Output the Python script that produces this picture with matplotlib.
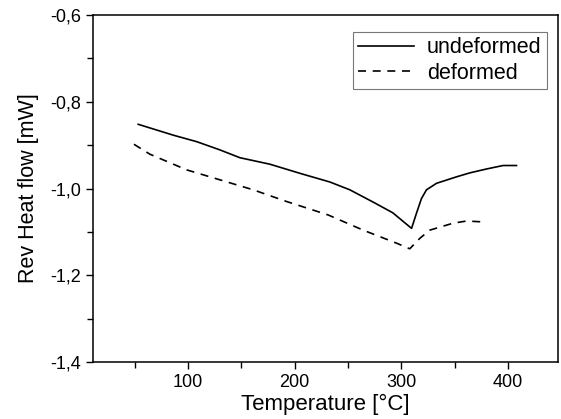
import matplotlib
matplotlib.use("Agg")
import matplotlib.pyplot as plt
from matplotlib.ticker import FuncFormatter, MultipleLocator

plt.rcParams['font.family'] = ['Liberation Sans', 'DejaVu Sans']

undef_T = [53.4, 86.2, 108.2, 130, 148.7, 176.9, 205, 233.1, 251.8, 273.4, 292.1, 309.7,
           314.3, 319.0, 323.7, 333.1, 352.0, 364.3, 380.0, 395.5, 408.1]
undef_v = [-0.852, -0.877, -0.892, -0.911, -0.929, -0.944, -0.965, -0.985, -1.003, -1.031, -1.056, -1.092,
           -1.057, -1.023, -1.003, -0.988, -0.973, -0.964, -0.955, -0.947, -0.947]

def_T = [49.4, 64.4, 98.8, 130, 161.2, 192.5, 231.5, 264.3, 295.6, 308, 317.4, 326.8, 348.6, 361.2, 376.8]
def_v = [-0.898, -0.921, -0.957, -0.980, -1.003, -1.030, -1.061, -1.096, -1.126, -1.139, -1.115, -1.096, -1.080, -1.075, -1.077]

fig = plt.figure(figsize=(5.61, 4.19), dpi=100)
ax = fig.add_axes([93/561, 1 - 362/419, (558-93)/561, (362-15)/419])

ax.plot(undef_T, undef_v, color='black', lw=1.2, label='undeformed')
ax.plot(def_T, def_v, color='black', lw=1.2, ls=(0, (4.8, 4.0)), label='deformed')

ax.set_xlim(11, 447)
ax.set_ylim(-1.4, -0.6)
ax.xaxis.set_major_locator(MultipleLocator(100))
ax.xaxis.set_minor_locator(MultipleLocator(50))
ax.yaxis.set_major_locator(MultipleLocator(0.2))
ax.yaxis.set_minor_locator(MultipleLocator(0.1))
ax.yaxis.set_major_formatter(FuncFormatter(lambda v, p: f"{v:.1f}".replace('.', ',')))
ax.tick_params(axis='both', which='both', direction='out', labelsize=13, top=False, right=False)
ax.tick_params(which='major', length=5, width=1)
ax.tick_params(which='minor', length=4, width=1)
for s in ax.spines.values():
    s.set_linewidth(1.1)

ax.set_xlabel('Temperature [°C]', fontsize=16, labelpad=2)
ax.set_ylabel('Rev Heat flow [mW]', fontsize=15.5, labelpad=8)

leg = ax.legend(loc='upper right', bbox_to_anchor=(547/561, 1 - 32/419),
                bbox_transform=fig.transFigure, fontsize=15.5, frameon=True, fancybox=False,
                edgecolor='#555555', handlelength=2.6, borderaxespad=0.0, borderpad=0.25,
                handletextpad=0.6, labelspacing=0.2)
leg.get_frame().set_linewidth(0.8)

fig.savefig('out.png', dpi=100)
